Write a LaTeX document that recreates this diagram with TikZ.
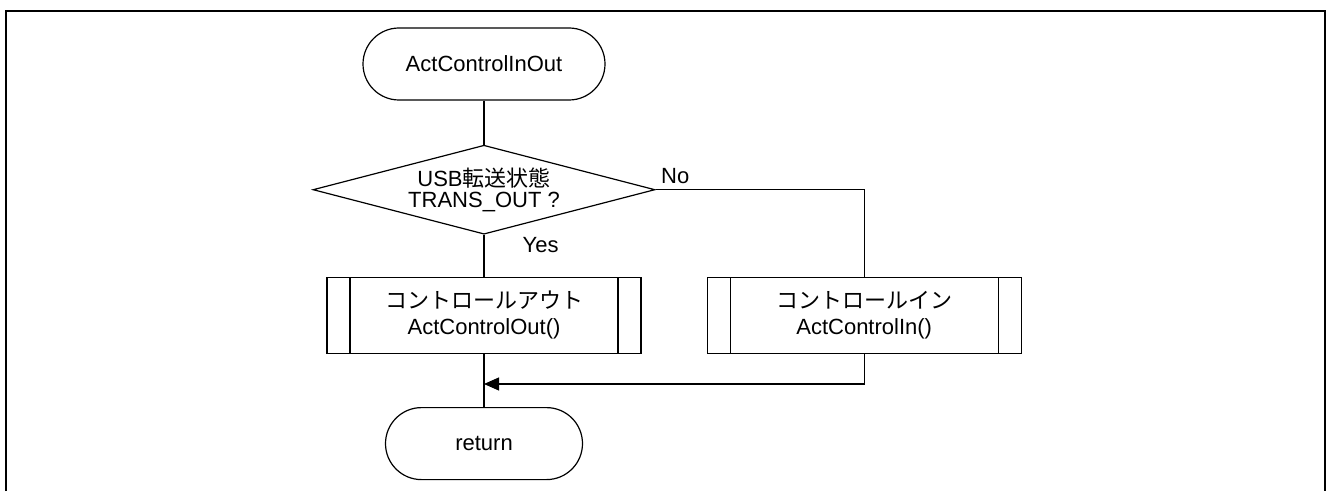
\documentclass[tikz,border=0pt]{standalone}
\usepackage{fontspec}
\setmainfont{Liberation Sans}
\newfontfamily\jpfont{Noto Sans CJK JP}
\usepackage{tikz}
\usetikzlibrary{positioning, shapes.geometric, shapes.misc, arrows.meta}

\begin{document}
\begin{tikzpicture}[x=1pt, y=1pt, >={Triangle[length=15pt, width=13pt]}, line width=1.2pt,
    termbox/.style={draw, rounded rectangle, minimum height=72pt, inner sep=0pt, font=\fontsize{22}{26}\selectfont},
    decbox/.style={draw, diamond, minimum width=342pt, minimum height=89pt, aspect=3.84, inner sep=0pt, align=center, font=\fontsize{22}{21}\selectfont},
    procbox/.style={draw, rectangle, minimum width=314pt, minimum height=76pt, inner sep=0pt, align=center, font=\fontsize{22}{26}\selectfont,
        path picture={\draw ([xshift=23pt]path picture bounding box.north west) -- ([xshift=23pt]path picture bounding box.south west)
            ([xshift=-23pt]path picture bounding box.north east) -- ([xshift=-23pt]path picture bounding box.south east);}},
    lbl/.style={inner sep=0pt, font=\fontsize{22}{26}\selectfont}]

        \useasboundingbox (0,0) rectangle (1326,491);

        % Frame round the page
        \draw[line width=2pt] (6,0) -- (6,480) -- (1325,480) -- (1325,0);

        % Define the flow nodes
        \node[termbox, minimum width=242pt] (start) at (484,427) {ActControlInOut};
        \node[decbox, below=44pt of start] (dec) {USB{\jpfont 転送状態}\\TRANS\_OUT ?};
        \node[procbox, below=42pt of dec] (outbox) {{\jpfont コントロールアウト}\\ActControlOut()};
        \node[procbox, right=65pt of outbox] (inbox) {{\jpfont コントロールイン}\\ActControlIn()};
        \node[termbox, minimum width=197pt, below=53pt of outbox] (ret) {return};

        % Branch labels
        \node[lbl, anchor=base west] (nolbl) at ([xshift=5pt, yshift=6.5pt]dec.east) {No};
        \node[lbl, anchor=north west] (yeslbl) at ([xshift=38pt, yshift=-2pt]dec.south) {Yes};
        \coordinate (merge) at ([yshift=-30pt]outbox.south);

        % Connectors
        \draw (start.south) -- (dec.north);
        \draw (dec.south) -- (outbox.north);
        \draw (dec.east) -| (inbox.north);
        \draw (outbox.south) -- (ret.north);
        \draw[->] (inbox.south) |- (merge);
    \end{tikzpicture}
\end{document}
